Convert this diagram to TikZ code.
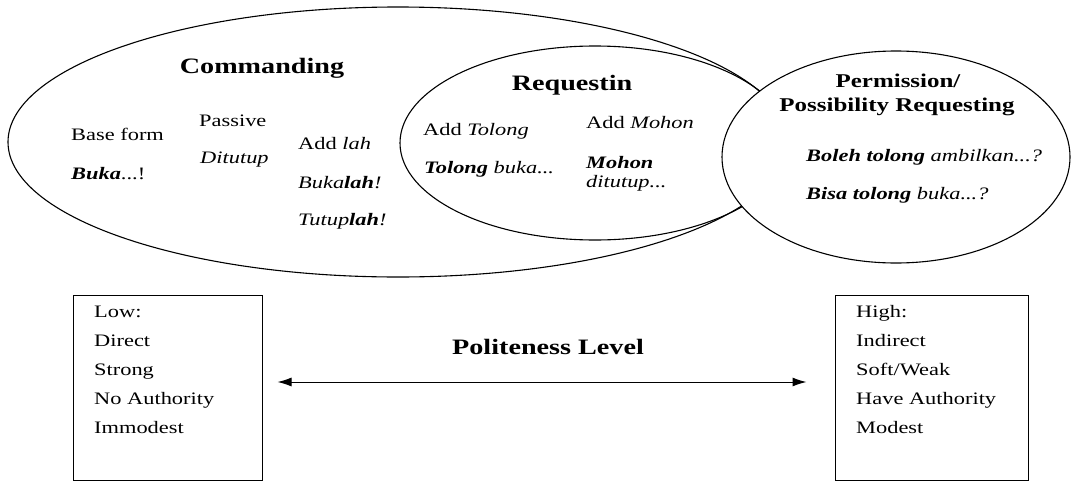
\documentclass[tikz,border=0pt]{standalone}
\usepackage{fontspec}
\setmainfont{Liberation Serif}
\usetikzlibrary{arrows.meta}
\newcommand{\hs}[1]{\scalebox{1.28}[1]{#1}}
\begin{document}
\begin{tikzpicture}[x=1pt,y=-1pt,
  txt/.style={anchor=base west, inner sep=0pt, font=\fontsize{17.5}{20}\selectfont},
  head/.style={anchor=base, inner sep=0pt, font=\fontsize{22}{24}\selectfont\bfseries},
  headsm/.style={anchor=base, inner sep=0pt, font=\fontsize{19.5}{22}\selectfont\bfseries},
  ln/.style={line width=1.1pt},
  levelbox/.style={draw, line width=1pt, rectangle, inner sep=0pt, minimum width=189pt, minimum height=185pt},
  arr/.style={line width=1pt, {Latex[length=14pt,width=9pt]}-{Latex[length=14pt,width=9pt]}}]
\useasboundingbox (0,0) rectangle (1073,482);
% ellipses
\draw[ln] (398,142) ellipse [x radius=390pt, y radius=135pt];
\draw[ln] (595,143) ellipse [x radius=195pt, y radius=97pt];
\draw[ln, fill=white] (896,157) ellipse [x radius=174pt, y radius=106pt];
% Commanding
\node[head] (cm) at (262,73) {\hs{Commanding}};
\node[txt] (bf) at (71,140) {\hs{Base form}};
\node[txt] (bk) at (71,179) {\hs{\textbf{\textit{Buka}}...!}};
\node[txt] (pa) at (199,126) {\hs{Passive}};
\node[txt] (dt) at (200,163) {\hs{\textit{Ditutup}}};
\node[txt] (al) at (298,149) {\hs{Add \textit{lah}}};
\node[txt] (bl) at (298,188) {\hs{\textit{Buka\textbf{lah}!}}};
\node[txt] (tl) at (298,225) {\hs{\textit{Tutup\textbf{lah}!}}};
% Requesting
\node[head] (rq) at (572,90) {\hs{Requestin}};
\node[txt] (at) at (423,135) {\hs{Add \textit{Tolong}}};
\node[txt] (tb) at (424,173) {\hs{\textbf{\textit{Tolong}} \textit{buka...}}};
\node[txt] (am) at (586,128) {\hs{Add \textit{Mohon}}};
\node[txt] (mh) at (586,168) {\hs{\textbf{\textit{Mohon}}}};
\node[txt] (md) at (586,187) {\hs{\textit{ditutup...}}};
% Permission
\node[headsm] (pm) at (898,87) {\hs{Permission/}};
\node[headsm] (pr) at (897,111) {\hs{Possibility Requesting}};
\node[txt] (bo) at (806,161) {\hs{\textbf{\textit{Boleh tolong}} \textit{ambilkan...?}}};
\node[txt] (bi) at (806,199) {\hs{\textbf{\textit{Bisa tolong}} \textit{buka...?}}};
% level boxes
\node[levelbox] (low) at (167.5,387.5) {};
\node[levelbox, minimum width=193pt] (high) at (931.5,387.5) {};
\node[txt] (l1) at (94,317) {\hs{Low:}};
\node[txt] (l2) at (94,346) {\hs{Direct}};
\node[txt] (l3) at (94,375) {\hs{Strong}};
\node[txt] (l4) at (94,404) {\hs{No Authority}};
\node[txt] (l5) at (94,433) {\hs{Immodest}};
\node[txt] (h1) at (856,317) {\hs{High:}};
\node[txt] (h2) at (856,346) {\hs{Indirect}};
\node[txt] (h3) at (856,375) {\hs{Soft/Weak}};
\node[txt] (h4) at (856,404) {\hs{Have Authority}};
\node[txt] (h5) at (856,433) {\hs{Modest}};
% politeness
\node[head] (pl) at (548,354) {\hs{Politeness Level}};
\draw[arr, shorten <=15pt, shorten >=28pt] (low.east |- 0,382) -- (high.west |- 0,382);
\end{tikzpicture}
\end{document}
